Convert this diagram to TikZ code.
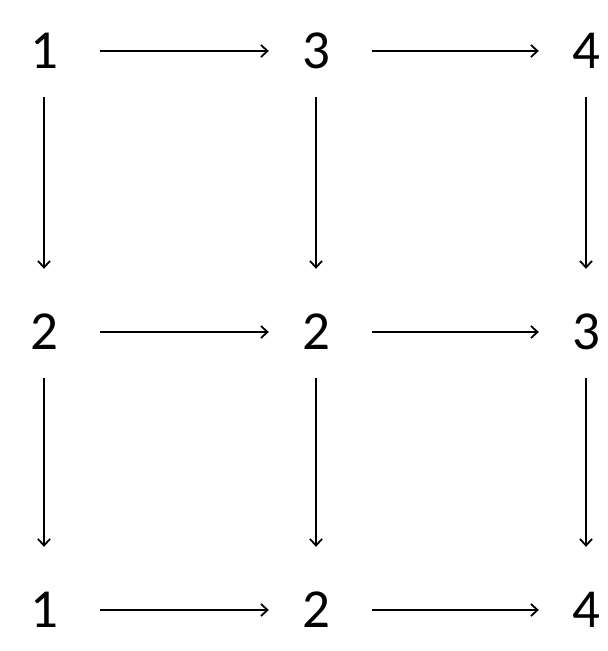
\documentclass[tikz,border=0pt]{standalone}
\usepackage{fontspec}
\setmainfont{Carlito}
\usepackage{tikz}
\usetikzlibrary{arrows.meta, positioning}
\tikzset{
  cell/.style={rectangle, inner sep=0pt, minimum width=100pt, minimum height=92pt, text centered, font=\fontsize{55}{60}\selectfont},
  harrow/.style={line width=1.8pt, -{Straight Barb[length=6.5pt, width=12pt]}, shorten <=6pt, shorten >=-3pt},
  varrow/.style={line width=1.8pt, -{Straight Barb[length=6.5pt, width=12pt]}, shorten >=17pt}
}

\begin{document}
\begin{tikzpicture}[x=1pt, y=1pt]

    \useasboundingbox (0,0) rectangle (608,-651);

    % Nodos de la rejilla
    \foreach \r/\y in {1/-51, 2/-332, 3/-610} {
        \foreach \c/\x in {1/44, 2/316, 3/586} {
            \coordinate (C\r\c) at (\x, \y);
        }
    }
    \node[cell] (n11) at (C11) {1};
    \node[cell] (n12) at (C12) {3};
    \node[cell] (n13) at (C13) {4};
    \node[cell] (n21) at (C21) {2};
    \node[cell] (n22) at (C22) {2};
    \node[cell] (n23) at (C23) {3};
    \node[cell] (n31) at (C31) {1};
    \node[cell] (n32) at (C32) {2};
    \node[cell] (n33) at (C33) {4};

    % Flechas horizontales
    \foreach \r in {1,2,3} {
        \draw[harrow] (n\r1.east) -- (n\r2.west);
        \draw[harrow] (n\r2.east) -- (n\r3.west);
    }

    % Flechas verticales
    \foreach \c in {1,2,3} {
        \draw[varrow] (n1\c.south) -- (n2\c.north);
        \draw[varrow] (n2\c.south) -- (n3\c.north);
    }

\end{tikzpicture}
\end{document}
